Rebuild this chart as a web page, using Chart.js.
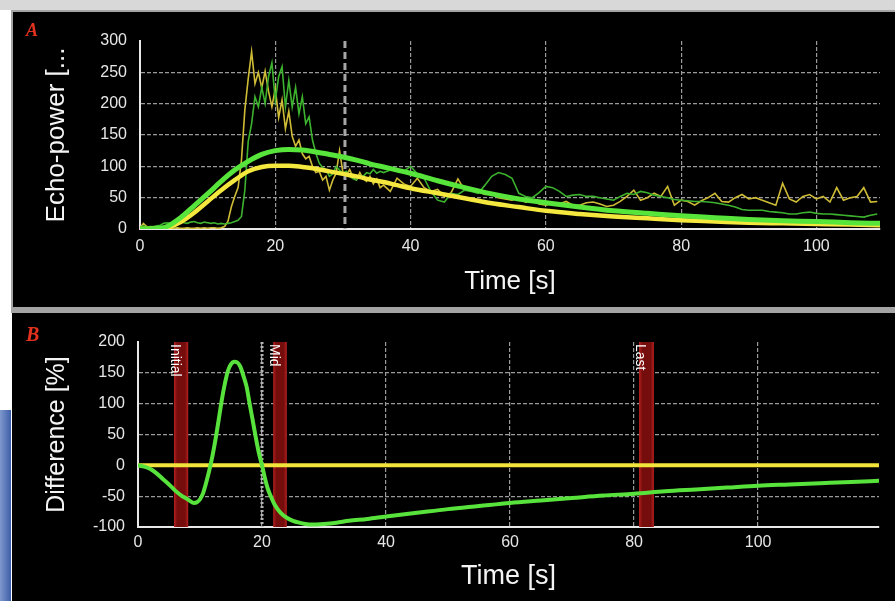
<!DOCTYPE html>
<html>
<head>
<meta charset="utf-8">
<script src="https://cdn.jsdelivr.net/npm/chart.js@4.4.0/dist/chart.umd.min.js"></script>
<style>
  html, body { margin: 0; padding: 0; }
  body { width: 895px; height: 601px; position: relative; overflow: hidden; background: #ffffff; }
  #topbar { position: absolute; left: 0; top: 0; width: 895px; height: 10px; background: #d8d8d8; }
  #frame { position: absolute; left: 11px; top: 10px; width: 884px; height: 303px; background: #a4a4a4; }
  #blue { position: absolute; left: 0; top: 410px; width: 11px; height: 191px; background: linear-gradient(to right, #7f98cc, #3d5ea8); }
  canvas { position: absolute; background: #000000; }
  #chartA { left: 13px; top: 12px; }
  #chartB { left: 12px; top: 313px; }
  .tag { position: absolute; color: #e4321e; font-family: "Liberation Serif", serif; font-style: italic; font-weight: bold; line-height: 20px; }
  #tagA { left: 26px; top: 20px; font-size: 18px; }
  #tagB { left: 26px; top: 324px; font-size: 20px; }
</style>
</head>
<body>
<div id="topbar"></div>
<div id="frame"></div>
<div id="blue"></div>
<canvas id="chartA" width="882" height="295"></canvas>
<canvas id="chartB" width="883" height="288"></canvas>
<div class="tag" id="tagA">A</div>
<div class="tag" id="tagB">B</div>

<script>
// panel A: raw echo-power traces (time in s)
var rawTime = [0,0.5,1,1.5,2,2.5,3,3.5,4,4.5,5,5.5,6,6.5,7,7.5,8,8.5,9,9.5,10,10.5,11,11.5,12,12.5,
  13,13.5,14,14.5,15,15.5,16,16.5,17,17.5,18,18.5,19,19.5,20,20.5,21,21.5,22,22.5,23,23.5,24,24.5,
  25,25.5,26,26.5,27,27.5,28,28.5,29,29.5,30,30.5,31,31.5,32,32.5,33,33.5,34,34.5,35,35.5,36,
  37,38,39,40,41,42,43,44,45,46,47,48,49,50,51,52,53,54,55,56,57,58,59,60,61,62,63,64,65,66,67,68,
  69,70,71,72,73,74,75,76,77,78,79,80,81,82,83,84,85,86,87,88,89,90,91,92,93,94,95,96,97,98,99,100,
  101,102,103,104,105,106,107,108,109];

var rawYellow = [2,9,4,2,1,2,1,1,2,1,1,2,1,1,2,1,1,2,1,2,1,2,2,1,2,4,
  12,35,52,66,110,190,240,283,232,250,225,252,220,195,224,178,206,160,188,148,132,142,120,112,
  116,100,90,92,78,84,62,78,89,125,90,86,95,82,78,90,80,76,84,72,80,66,70,
  60,81,72,68,81,66,60,63,52,58,80,62,65,60,55,56,50,48,46,50,43,45,40,38,42,40,44,38,38,42,43,40,
  36,38,44,52,62,46,50,57,52,68,38,46,44,38,45,50,57,44,43,50,55,48,50,46,42,38,73,48,43,52,55,48,
  52,43,66,46,50,52,66,43,44];

var rawGreen = [3,5,3,4,4,5,6,9,10,9,11,10,12,10,9,11,12,10,9,11,10,9,10,8,9,8,
  9,10,12,14,20,62,140,168,211,195,226,200,243,265,205,243,259,195,237,195,226,184,211,168,
  179,142,121,105,98,95,84,88,100,94,89,92,84,80,78,85,84,90,88,95,89,92,90,
  94,95,92,100,88,81,60,46,43,57,55,62,60,57,70,84,90,87,81,57,52,50,58,68,66,60,52,54,55,52,52,50,
  48,46,52,57,55,60,58,54,52,50,47,46,45,44,44,43,42,40,38,35,31,30,30,30,28,27,26,24,24,26,27,25,
  24,24,23,22,21,20,19,22,24];

// panel A: fitted curves
var fitTime = [0,2,4,6,8,10,12,14,16,18,20,22,24,26,28,30,32,34,36,38,40,44,48,52,56,60,65,70,75,80,85,90,95,100,105,109.4];
var fitGreen = [0,0.5,4,18,37,56,76,94,108,119,125,127,126,123,119,115,110,104,99,94,89,77,66,56,48,42,35,29,25,21,18,15,13,12,10,9];
var fitYellow = [0,0.3,2,11,26,44,62,78,92,99,101,101,99,96,92,88,84,79,75,70,65,57,49,41,35,29,24,20,17,14,12,10,9,8,7,6];

var xTicksA = [0,20,40,60,80,100];
var yTicksA = [0,50,100,150,200,250,300];
var markerA = 30.3;

// panel B: difference curve
var diffTime = [0,1,2,3,4,5,6,7,8,9,9.5,10,10.5,11,11.5,12,12.5,13,13.5,14,14.5,15,15.5,16,16.5,17,17.5,
  18,18.5,19,19.5,20,20.5,21,21.5,22,23,24,25,26,27,28,30,32,34,37,40,45,50,55,60,65,70,75,80,85,90,95,
  100,105,110,115,119.5];
var diffGreen = [0,-2,-6,-13,-22,-31,-41,-49,-55,-61,-60,-55,-45,-28,-8,15,42,73,105,132,153,164,168,167,160,145,128,
  100,73,45,20,0,-22,-40,-52,-63,-77,-85,-90,-93,-95,-96,-95,-93,-90,-87,-83,-77,-71,-66,-61,-57,-53,-49,-46,-42,-39,-36,
  -33,-31,-29,-27,-25];
var zeroTime = [0,119.5];
var zeroLine = [0,0];

var xTicksB = [0,20,40,60,80,100];
var yTicksB = [-100,-50,0,50,100,150,200];
var markerB = 20;
var bandNames = ['Initial','Mid','Last'];
var bandStart = [5.8,21.8,80.8];
var bandEnd = [8.1,24.0,83.2];

(function(Chart){

    var FONT = '"Liberation Sans", Arial, sans-serif';
    var gridGray = '#9a9a9a';
    var axisWhite = '#e8e8e8';

    Chart.defaults.font.family = FONT;

    function pointsOf(xs, ys) {
        return xs.map(function(x, i) { return { x: x, y: ys[i] }; });
    }

    function fixedTicks(values) {
        return function(scale) {
            scale.ticks = values.map(function(v) { return { value: v }; });
        };
    }

    function gridColor(hidden) {
        return function(ctx) {
            if (ctx.tick && hidden.indexOf(ctx.tick.value) >= 0) return 'rgba(0,0,0,0)';
            return gridGray;
        };
    }

    function axis(opts) {
        return {
            type: 'linear',
            min: opts.min,
            max: opts.max,
            afterBuildTicks: fixedTicks(opts.ticks),
            afterFit: opts.fit,
            grid: { color: gridColor(opts.hide), lineWidth: 1.2, drawTicks: false },
            border: { display: true, color: axisWhite, width: 2, dash: [4, 2] },
            ticks: { color: '#e6e6e6', font: { size: 16 }, padding: opts.pad, maxRotation: 0, autoSkip: false },
            title: { display: true, text: opts.title, color: '#f4f4f4', font: { size: opts.titleSize }, padding: opts.titlePad }
        };
    }

    // dashed time marker in A
    var markerLineA = {
        id: 'markerLineA',
        beforeDatasetsDraw: function(chart) {
            var ctx = chart.ctx, area = chart.chartArea;
            var px = chart.scales.x.getPixelForValue(markerA);
            ctx.save();
            ctx.strokeStyle = '#a6a6a6';
            ctx.lineWidth = 3;
            ctx.setLineDash([7, 4]);
            ctx.beginPath();
            ctx.moveTo(px, area.top);
            ctx.lineTo(px, area.bottom);
            ctx.stroke();
            ctx.restore();
        }
    };

    // red windows, their labels and the marker in B
    var bandsB = {
        id: 'bandsB',
        beforeDatasetsDraw: function(chart) {
            var ctx = chart.ctx, area = chart.chartArea, x = chart.scales.x;
            ctx.save();
            bandNames.forEach(function(name, i) {
                var x0 = x.getPixelForValue(bandStart[i]);
                var x1 = x.getPixelForValue(bandEnd[i]);
                var g = ctx.createLinearGradient(x0, 0, x1, 0);
                g.addColorStop(0, '#b82020');
                g.addColorStop(0.22, '#760d0d');
                g.addColorStop(0.78, '#760d0d');
                g.addColorStop(1, '#b82020');
                ctx.fillStyle = g;
                ctx.fillRect(x0, area.top, x1 - x0, area.bottom - area.top);
            });

            var px = x.getPixelForValue(markerB);
            ctx.strokeStyle = '#b4b4b4';
            ctx.lineWidth = 3;
            ctx.setLineDash([2, 2]);
            ctx.beginPath();
            ctx.moveTo(px, area.top);
            ctx.lineTo(px, area.bottom);
            ctx.stroke();
            ctx.setLineDash([]);

            ctx.fillStyle = '#ffffff';
            ctx.font = '14px ' + FONT;
            ctx.textBaseline = 'middle';
            ctx.textAlign = 'left';
            bandNames.forEach(function(name, i) {
                var x0 = x.getPixelForValue(bandStart[i]);
                ctx.save();
                ctx.translate(x0 + 1, area.top + 2);
                ctx.rotate(Math.PI / 2);
                ctx.fillText(name, 0, 0);
                ctx.restore();
            });
            ctx.restore();
        }
    };

    function makeChartA() {
        var ctxA = document.getElementById('chartA').getContext('2d');
        new Chart(ctxA, {
            type: 'line',
            data: {
                datasets: [{
                    data: pointsOf(fitTime, fitGreen),
                    borderColor: '#57e43b', borderWidth: 5,
                    cubicInterpolationMode: 'monotone', order: 1
                }, {
                    data: pointsOf(fitTime, fitYellow),
                    borderColor: '#f4e83f', borderWidth: 4.5,
                    cubicInterpolationMode: 'monotone', order: 2
                }, {
                    data: pointsOf(rawTime, rawGreen),
                    borderColor: '#3db22e', borderWidth: 1.6, order: 3
                }, {
                    data: pointsOf(rawTime, rawYellow),
                    borderColor: '#cfbc36', borderWidth: 1.6, order: 4
                }]
            },
            options: {
                responsive: false,
                animation: false,
                layout: { padding: { top: 29, right: 15, left: 0, bottom: 0 } },
                elements: { point: { radius: 0 }, line: { fill: false } },
                plugins: { legend: { display: false }, tooltip: { enabled: false } },
                scales: {
                    x: axis({ min: 0, max: 109.4, ticks: xTicksA, hide: [0], pad: 8,
                        title: 'Time [s]', titleSize: 26, titlePad: { top: 0, bottom: 10 },
                        fit: function(s) { s.height = 78; } }),
                    y: axis({ min: 0, max: 300, ticks: yTicksA, hide: [0, 300], pad: 13,
                        title: 'Echo-power [...', titleSize: 26, titlePad: { top: 28, bottom: 0 },
                        fit: function(s) { s.width = 127; } })
                }
            },
            plugins: [markerLineA]
        });
    }

    function makeChartB() {
        var ctxB = document.getElementById('chartB').getContext('2d');
        new Chart(ctxB, {
            type: 'line',
            data: {
                datasets: [{
                    data: pointsOf(diffTime, diffGreen),
                    borderColor: '#58e23c', borderWidth: 4,
                    cubicInterpolationMode: 'monotone', order: 1
                }, {
                    data: pointsOf(zeroTime, zeroLine),
                    borderColor: '#f2e43a', borderWidth: 4, order: 2
                }]
            },
            options: {
                responsive: false,
                animation: false,
                layout: { padding: { top: 29, right: 16, left: 0, bottom: 0 } },
                elements: { point: { radius: 0 }, line: { fill: false } },
                plugins: { legend: { display: false }, tooltip: { enabled: false } },
                scales: {
                    x: axis({ min: 0, max: 119.5, ticks: xTicksB, hide: [0], pad: 6,
                        title: 'Time [s]', titleSize: 27, titlePad: { top: 0, bottom: 8 },
                        fit: function(s) { s.height = 74; } }),
                    y: axis({ min: -100, max: 200, ticks: yTicksB, hide: [-100, 0, 200], pad: 13,
                        title: 'Difference [%]', titleSize: 25, titlePad: { top: 30, bottom: 0 },
                        fit: function(s) { s.width = 126; } })
                }
            },
            plugins: [bandsB]
        });
    }

    makeChartA();
    makeChartB();

})(Chart);
</script>
</body>
</html>
